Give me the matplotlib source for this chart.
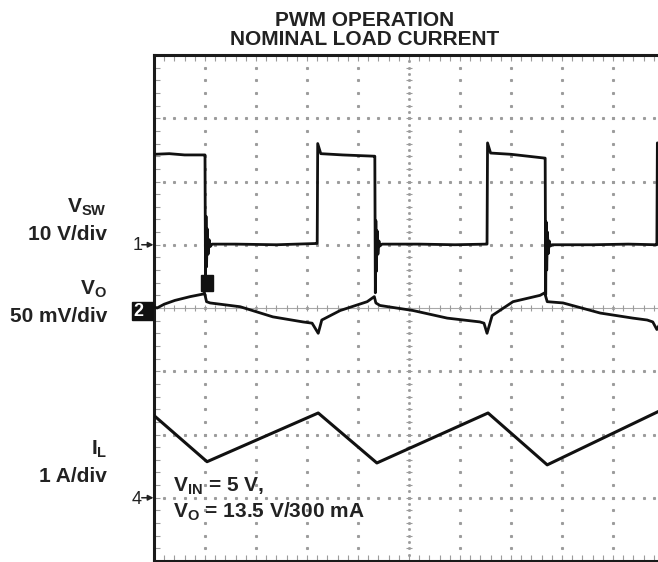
import numpy as np
import matplotlib
matplotlib.use("Agg")
import matplotlib.pyplot as plt
from matplotlib.patches import Rectangle

plt.rcParams['font.family'] = ['Liberation Sans', 'DejaVu Sans']
plt.rcParams['mathtext.fontset'] = 'custom'
plt.rcParams['mathtext.rm'] = 'Liberation Sans:bold'
plt.rcParams['mathtext.it'] = 'Liberation Sans:bold'
plt.rcParams['mathtext.bf'] = 'Liberation Sans:bold'
plt.rcParams['mathtext.default'] = 'rm'

# ---- scope settings (divisions) ----
VSW_SCALE, VSW_ZERO = 10.0, 1.0     # 10 V/div, ch1 ground marker
VO_SCALE, VO_ZERO = 50.0, 0.0       # 50 mV/div, ch2 (ac coupled)
IL_SCALE, IL_ZERO = 1.0, -3.0       # 1 A/div, ch4 ground marker

# ---- traces (time in divisions) ----
vsw_t = [0.0, 0.3, 0.6, 0.99,
         1.0, 1.01, 1.02, 1.03, 1.045, 1.06, 1.08, 1.10, 1.14, 1.6, 2.4, 3.19,
         3.2, 3.21, 3.27, 3.7, 4.32,
         4.33, 4.34, 4.35, 4.36, 4.375, 4.39, 4.41, 4.43, 4.47, 5.2, 5.9, 6.52,
         6.53, 6.54, 6.60, 7.0, 7.66,
         7.67, 7.68, 7.69, 7.70, 7.715, 7.73, 7.75, 7.77, 7.81, 8.6, 9.3, 9.85,
         9.86, 9.87, 9.95, 10.0]
vsw_v = [14.3, 14.4, 14.2, 14.2,
         14.2, -6.0, 4.5, -3.5, 2.5, -1.5, 0.8, -0.3, 0.1, 0.1, 0.0, 0.2,
         0.2, 16.0, 14.4, 14.2, 14.0,
         14.0, -7.6, 3.8, -4.2, 2.2, -1.5, 0.6, -0.2, 0.1, 0.1, 0.0, 0.1,
         0.1, 16.1, 14.5, 14.3, 13.7,
         13.7, -7.9, 3.6, -4.0, 2.0, -1.4, 0.6, -0.2, 0.0, 0.0, 0.1, 0.0,
         0.0, 16.1, 15.0, 14.8]

vo_t = [0.0, 0.06, 0.2, 0.41, 0.71, 0.96, 0.99, 1.03, 1.10, 1.69, 2.33, 2.92,
        3.10, 3.22, 3.29, 3.65, 4.18, 4.32, 4.35, 4.43, 5.08, 5.75, 6.39,
        6.47, 6.53, 6.63, 7.04, 7.57, 7.66, 7.71, 8.02, 8.75, 9.39, 9.67,
        9.78, 9.86, 9.90]
vo_mv = [1, 0, 3, 6, 9, 11, 12, 5, 4, 1, -7, -11,
         -12, -20, -9.5, -2, 5, 9, 4, 2, -2, -8, -11,
         -12, -20, -6, 5, 10, 12, 5, 4, -4, -8, -9.5,
         -11, -17, -14]

il_t = [0.0, 1.04, 3.22, 4.37, 6.55, 7.71, 9.88]
il_a = [1.30, 0.57, 1.34, 0.55, 1.34, 0.52, 1.36]

W, H = 658, 562
fig = plt.figure(figsize=(W / 100, H / 100), dpi=100)
fig.patch.set_facecolor('white')


def fx(px):
    return px / W


def fy(py):
    return 1 - py / H


ax = fig.add_axes([fx(154), fy(561), 510 / W, 506 / H])
ax.set_xlim(0, 10)
ax.set_ylim(-4, 4)

# graticule
grid_c = '#9c9c9c'
ys_fine = np.arange(-4, 4.001, 0.2)
xs_fine = np.arange(0, 10.001, 0.2)
for gx in range(1, 10):
    if gx == 5:
        continue
    ax.plot(np.full_like(ys_fine, gx), ys_fine, ls='none', marker='s', ms=1.2,
            color=grid_c, zorder=1)
for gy in range(-3, 4):
    if gy == 0:
        continue
    ax.plot(xs_fine, np.full_like(xs_fine, gy), ls='none', marker='s', ms=1.2,
            color=grid_c, zorder=1)
ax.axhline(0, color='#a8a8a8', lw=0.8, zorder=1)
ax.plot(xs_fine, np.zeros_like(xs_fine), ls='none', marker='|', ms=5,
        mew=0.8, color=grid_c, zorder=1)
ax.plot(np.full_like(ys_fine, 5), ys_fine, ls='none', marker='_', ms=5,
        mew=0.8, color=grid_c, zorder=1)
ys_dense = np.arange(-4, 4.001, 0.1)
ax.plot(np.full_like(ys_dense, 5), ys_dense, ls='none', marker='s', ms=1.0,
        color=grid_c, zorder=1)

ax.set_xticks(np.arange(0, 10.001, 0.2))
ax.set_yticks(np.arange(-4, 4.001, 0.2))
ax.tick_params(direction='in', length=4, width=0.8, color=grid_c,
               top=True, bottom=True, left=True, right=False,
               labelbottom=False, labelleft=False)
for side in ['top', 'left', 'bottom']:
    ax.spines[side].set_linewidth(2.2)
    ax.spines[side].set_color('#1a1a1a')
ax.spines['right'].set_visible(False)

# traces
tr_c = '#111111'
ax.plot(vsw_t, VSW_ZERO + np.array(vsw_v) / VSW_SCALE, color=tr_c, lw=2.0,
        zorder=3)
ax.plot(vo_t, VO_ZERO + np.array(vo_mv) / VO_SCALE, color=tr_c, lw=2.0,
        zorder=3)
ax.plot(il_t, IL_ZERO + np.array(il_a) / IL_SCALE, color=tr_c, lw=2.2,
        zorder=3)

# trigger marker
ax.add_patch(Rectangle((0.92, 0.27), 0.24, 0.25, color='#111111', zorder=4))

# channel markers
def arrow(y, col):
    ax.annotate('', xy=(-0.01, y), xytext=(-0.24, y), annotation_clip=False,
                arrowprops=dict(arrowstyle='-|>', lw=1.1, color=col,
                                mutation_scale=8, shrinkA=0, shrinkB=0))


fig.text(fx(138), fy(245), '1', ha='center', va='center', fontsize=13,
         color='#222222')
arrow(VSW_ZERO, '#222222')
ax.add_patch(Rectangle((-0.43, -0.19), 0.41, 0.285, color='#111111',
                       clip_on=False, zorder=4))
fig.text(fx(138), fy(311), '2', ha='center', va='center', fontsize=13,
         fontweight='bold', color='white', zorder=5)
arrow(VO_ZERO, 'white')
fig.text(fx(137), fy(500), '4', ha='center', va='center', fontsize=13,
         color='#222222')
arrow(IL_ZERO, '#222222')

# titles and labels
txt_c = '#222222'
fig.text(fx(365), fy(26), 'PWM OPERATION', ha='center', va='baseline',
         fontsize=15, fontweight='bold', color=txt_c)
fig.text(fx(365), fy(45), 'NOMINAL LOAD CURRENT', ha='center', va='baseline',
         fontsize=15, fontweight='bold', color=txt_c)

labels = [(213, r'$V_{SW}$'), (240, '10 V/div'),
          (295, r'$V_{O}$'), (322, '50 mV/div'),
          (455, r'$I_{L}$'), (482, '1 A/div')]
for py, s in labels:
    fig.text(fx(107), fy(py), s, ha='right', va='baseline', fontsize=15,
             fontweight='bold', color=txt_c)

fig.text(fx(173), fy(492), r'$V_{IN}$' + ' = 5 V,', ha='left', va='baseline',
         fontsize=15, fontweight='bold', color=txt_c)
fig.text(fx(173), fy(518), r'$V_{O}$' + ' = 13.5 V/300 mA', ha='left',
         va='baseline', fontsize=15, fontweight='bold', color=txt_c)

fig.savefig('out.png', dpi=100, facecolor='white')
